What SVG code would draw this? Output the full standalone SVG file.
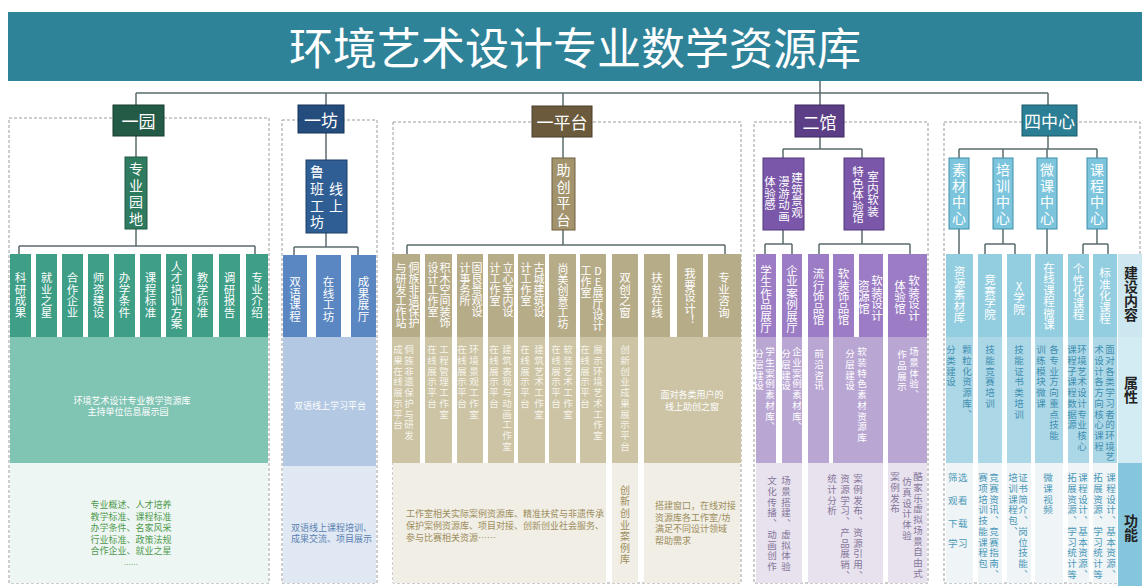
<svg xmlns="http://www.w3.org/2000/svg" width="1142" height="586" viewBox="0 0 1142 586">
<style>
text{font-family:"Noto Sans CJK SC","Noto Sans",sans-serif}
.v{writing-mode:vertical-rl;text-orientation:upright}
.m{text-anchor:middle}
.c{dominant-baseline:central}
.hd{font-size:17px;fill:#fff;text-anchor:middle;dominant-baseline:central}
.sb{font-size:14px;fill:#fff;letter-spacing:2.5px}
.sb2{font-size:11.5px;fill:#fff}
.lf{font-size:11.5px;fill:#fff}
.lf2{font-size:11px;fill:#fff}
.at{font-size:9.5px;letter-spacing:1.2px}
.hz{font-size:9px}
.w{fill:#fff}
.dash{fill:none;stroke:#9c9c9c;stroke-width:1;stroke-dasharray:3 2}
.ln{fill:none;stroke:#5b6b6e;stroke-width:1.5}
.lb{font-size:14px;font-weight:bold;fill:#222}
.g1{fill:#3e9e86}.g2{fill:#80c4b4}.g3{fill:#eef6f4}
.b1{fill:#5a87c2}.b2{fill:#b3c8e2}.b3{fill:#dfe8f3}
.t1{fill:#b7ac88}.t2{fill:#ccc4a5}.t3{fill:#f0eee5}
.p1{fill:#9c7cc4}.p2{fill:#b9a6d3}.p3{fill:#e7e2ee}
.c1{fill:#92cde0}.c2{fill:#acd7e7}.c3{fill:#eff4f6}
</style>
<rect width="1142" height="586" fill="#fff"/>
<g id="title">
<rect x="8" y="12" width="1134" height="69" fill="#2f8399"/>
<text x="575" y="46" font-size="44" fill="#fff" text-anchor="middle" dominant-baseline="central">环境艺术设计专业数学资源库</text>
</g>
<g id="connectors" class="ln">
<path d="M136 93H1048M820 81V105M136 93V105M326 93V105M563 93V106M1048 93V105"/>
<path d="M136 136V157M136 229V246M19 246H255M19 246V254M255 246V254"/>
<path d="M326 133V160M326 233V247M294 247H358M294 247V255M358 247V255"/>
<path d="M563 137V158M563 230V245M407 245H725M407 245V254M725 245V254"/>
<path d="M820 137V149M783 149H862M783 149V158M862 149V158M783 230V244M765 244H792M765 244V254M792 244V254M862 230V244M819 244H910M819 244V254M910 244V254"/>
<path d="M1048 136V149M959 149H1097M959 149V158M1003 149V158M1047 149V158M1097 149V158M959 229V254M1003 229V244M985 244H1015M985 244V254M1015 244V254M1047 229V254M1097 229V244M1083 244H1108M1083 244V254M1108 244V254"/>
</g>

<g id="yiyuan">
<rect class="dash" x="9" y="118" width="260" height="465"/>
<g id="yiyuan-head"><rect x="113" y="105" width="51" height="31" fill="#245b47" stroke="#163d2f"/><text class="hd" x="138.5" y="120.5">一园</text></g>
<g id="zhuanye-yuandi"><rect x="125" y="157" width="22" height="72" fill="#2e7b5f" stroke="#1e5a44"/><text class="v sb m" x="136" y="195">专业园地</text></g>
<rect class="g2" x="10" y="337" width="258" height="126"/>
<rect class="g3" x="10" y="463" width="258" height="120"/>
<g id="yy-l1"><rect class="g1" x="10" y="254" width="21" height="83"/><text class="v lf m" x="20.5" y="295">科研成果</text></g>
<g id="yy-l2"><rect class="g1" x="36" y="254" width="21" height="83"/><text class="v lf m" x="46.5" y="295">就业之星</text></g>
<g id="yy-l3"><rect class="g1" x="62" y="254" width="21" height="83"/><text class="v lf m" x="72.5" y="295">合作企业</text></g>
<g id="yy-l4"><rect class="g1" x="88" y="254" width="21" height="83"/><text class="v lf m" x="98.5" y="295">师资建设</text></g>
<g id="yy-l5"><rect class="g1" x="114" y="254" width="21" height="83"/><text class="v lf m" x="124.5" y="295">办学条件</text></g>
<g id="yy-l6"><rect class="g1" x="140" y="254" width="21" height="83"/><text class="v lf m" x="150.5" y="295">课程标准</text></g>
<g id="yy-l7"><rect class="g1" x="166" y="254" width="21" height="83"/><text class="v lf m" x="176.5" y="295">人才培训方案</text></g>
<g id="yy-l8"><rect class="g1" x="192" y="254" width="21" height="83"/><text class="v lf m" x="202.5" y="295">教学标准</text></g>
<g id="yy-l9"><rect class="g1" x="219" y="254" width="21" height="83"/><text class="v lf m" x="229.5" y="295">调研报告</text></g>
<g id="yy-l10"><rect class="g1" x="246" y="254" width="22" height="83"/><text class="v lf m" x="257" y="295">专业介绍</text></g>
<text class="hz w m c" x="132" y="400">环境艺术设计专业教学资源库</text>
<text class="hz w m c" x="128" y="411">主持单位信息展示园</text>
<g class="hz m" fill="#4f9a4c">
<text x="131" y="508">专业概述、人才培养</text>
<text x="131" y="519.5">教学标准、课程标准</text>
<text x="131" y="531">办学条件、名家风采</text>
<text x="131" y="542.5">行业标准、政策法规</text>
<text x="131" y="554">合作企业、就业之星</text>
<text x="131" y="567" font-size="7">……</text>
</g>
</g>

<g id="yifang">
<rect class="dash" x="282" y="120" width="95" height="463"/>
<g id="yifang-head"><rect x="298" y="105" width="46" height="28" fill="#244c7c" stroke="#16345a"/><text class="hd" x="321" y="119">一坊</text></g>
<g id="luban"><rect x="306" y="160" width="41" height="73" fill="#2f5e94" stroke="#1c3f68"/><text class="v sb" x="317" y="165" style="letter-spacing:2.7px">鲁班工坊</text><text class="v sb" x="336" y="182" style="letter-spacing:2.7px">线上</text></g>
<rect class="b2" x="283" y="337" width="93" height="129"/>
<rect class="b3" x="283" y="466" width="93" height="117"/>
<g id="yf-l1"><rect class="b1" x="283" y="255" width="24" height="82"/><text class="v lf m" x="295" y="299">双语课程</text></g>
<g id="yf-l2"><rect class="b1" x="316" y="255" width="25" height="82"/><text class="v lf m" x="328.5" y="299">在线工坊</text></g>
<g id="yf-l3"><rect class="b1" x="351" y="255" width="25" height="82"/><text class="v lf m" x="363.5" y="299">成果展厅</text></g>
<text class="hz w m c" x="330" y="405">双语线上学习平台</text>
<g class="hz" fill="#5b80b2">
<text x="291" y="530.5">双语线上课程培训、</text>
<text x="291" y="541.5">成果交流、项目展示</text>
</g>
</g>

<g id="yipingtai">
<rect class="dash" x="393" y="122" width="348" height="461"/>
<g id="yipingtai-head"><rect x="532" y="106" width="60" height="31" fill="#6b5a3c" stroke="#4a3d28"/><text class="hd" x="562" y="121.5">一平台</text></g>
<g id="zhuchuang"><rect x="552" y="158" width="23" height="72" fill="#a3946e" stroke="#6e5f40"/><text class="v sb m" x="563.5" y="196">助创平台</text></g>
<rect class="t2" x="392" y="337" width="28" height="126"/>
<rect class="t2" x="425" y="337" width="27" height="126"/>
<rect class="t2" x="457" y="337" width="26" height="126"/>
<rect class="t2" x="488" y="337" width="26" height="126"/>
<rect class="t2" x="518" y="337" width="27" height="126"/>
<rect class="t2" x="549" y="337" width="27" height="126"/>
<rect class="t2" x="580" y="337" width="26" height="126"/>
<rect class="t2" x="612" y="337" width="26" height="126"/>
<rect class="t2" x="644" y="337" width="97" height="126"/>
<rect class="t3" x="393" y="463" width="213" height="120"/>
<rect class="t3" x="612" y="463" width="26" height="120"/>
<rect class="t3" x="644" y="463" width="96" height="120"/>
<g id="pt-l1"><rect class="t1" x="392" y="254" width="28" height="83"/><text class="v lf2" x="414" y="262">侗族非遗保护</text><text class="v lf2" x="401" y="262">与研发工作站</text></g>
<g id="pt-l2"><rect class="t1" x="425" y="254" width="27" height="83"/><text class="v lf2" x="445" y="262">积木空间装饰</text><text class="v lf2" x="433" y="262">设计工作室</text></g>
<g id="pt-l3"><rect class="t1" x="457" y="254" width="26" height="83"/><text class="v lf2" x="477" y="262">固良景观设</text><text class="v lf2" x="465" y="262">计事务所</text></g>
<g id="pt-l4"><rect class="t1" x="488" y="254" width="26" height="83"/><text class="v lf2" x="508" y="262">立心室内设</text><text class="v lf2" x="495" y="262">计工作室</text></g>
<g id="pt-l5"><rect class="t1" x="518" y="254" width="27" height="83"/><text class="v lf2" x="539" y="262">古城建筑设</text><text class="v lf2" x="526" y="262">计工作室</text></g>
<g id="pt-l6"><rect class="t1" x="549" y="254" width="27" height="83"/><text class="v lf2 m" x="563" y="296">尚美创意工坊</text></g>
<g id="pt-l7"><rect class="t1" x="580" y="254" width="26" height="83"/><text class="v lf2" x="598" y="265">DE展厅设计</text><text class="v lf2" x="586" y="265">工作室</text></g>
<g id="pt-l8"><rect class="t1" x="612" y="254" width="26" height="83"/><text class="v lf m" x="625" y="295">双创之窗</text></g>
<g id="pt-l9"><rect class="t1" x="644" y="254" width="26" height="83"/><text class="v lf m" x="657" y="295">扶贫在线</text></g>
<g id="pt-l10"><rect class="t1" x="677" y="254" width="26" height="83"/><text class="v lf m" x="690" y="297">我要设计！</text></g>
<g id="pt-l11"><rect class="t1" x="708" y="254" width="33" height="83"/><text class="v lf m" x="724" y="295">专业咨询</text></g>
<g class="v at" fill="#f7f4ea">
<text x="409" y="345">侗族非遗保护与研发</text><text x="398" y="345">成果在线展示平台</text>
<text x="444" y="345">工程管理工作室</text><text x="432" y="345">在线展示平台</text>
<text x="474" y="345">环境景观工作室</text><text x="462" y="345">在线展示平台</text>
<text x="507" y="345">建筑表现与动画工作室</text><text x="494" y="345">在线展示平台</text>
<text x="539" y="345">建筑艺术工作室</text><text x="525" y="345">在线展示平台</text>
<text x="568" y="345">软装艺术工作室</text><text x="556" y="345">在线展示平台</text>
<text x="598" y="345">展示环境艺术工作室</text><text x="585" y="345">在线展示平台</text>
<text x="625" y="345">创新创业成果展示平台</text>
</g>
<text class="hz w m c" x="692" y="394">面对各类用户的</text>
<text class="hz w m c" x="692" y="406">线上助创之窗</text>
<g class="hz" fill="#9e8d5c">
<text x="406" y="517">工作室相关实际案例资源库、精准扶贫与非遗传承</text>
<text x="406" y="529">保护案例资源库、项目对接、创新创业社会服务、</text>
<text x="406" y="541">参与比赛相关资源……</text>
<text x="655" y="508.5">搭建窗口，在线对接</text>
<text x="655" y="520.5">资源库各工作室/坊</text>
<text x="655" y="532">满足不同设计领域</text>
<text x="655" y="543.5">帮助需求</text>
</g>
<text class="v" x="625" y="485" font-size="10" letter-spacing="1.6" fill="#9e8d5c">创新创业案例库</text>
</g>

<g id="erguan">
<rect class="dash" x="754" y="122" width="174" height="461"/>
<g id="erguan-head"><rect x="795" y="105" width="49" height="32" fill="#5b3e85" stroke="#3d2860"/><text class="hd" x="819.5" y="121">二馆</text></g>
<g id="jianzhu"><rect x="763" y="158" width="41" height="72" fill="#7a57a8" stroke="#54397c"/><text class="v sb2" x="797" y="172">建筑景观</text><text class="v sb2" x="784" y="176">漫游动画</text><text class="v sb2" x="770" y="176">体验感</text></g>
<g id="shinei"><rect x="844" y="158" width="40" height="72" fill="#7a57a8" stroke="#54397c"/><text class="v sb2" x="873" y="171">室内软装</text><text class="v sb2" x="858" y="166">特色体验馆</text></g>
<rect class="p2" x="756" y="337" width="20" height="126"/>
<rect class="p2" x="782" y="337" width="20" height="126"/>
<rect class="p2" x="808" y="337" width="21" height="126"/>
<rect class="p2" x="833" y="337" width="50" height="126"/>
<rect class="p2" x="888" y="337" width="39" height="126"/>
<rect class="p3" x="756" y="463" width="46" height="120"/>
<rect class="p3" x="808" y="463" width="75" height="120"/>
<rect class="p3" x="888" y="463" width="39" height="120"/>
<g id="eg-l1"><rect class="p1" x="756" y="254" width="20" height="83"/><text class="v lf m" x="766" y="299">学生作品展厅</text></g>
<g id="eg-l2"><rect class="p1" x="782" y="254" width="20" height="83"/><text class="v lf m" x="792" y="299">企业案例展厅</text></g>
<g id="eg-l3"><rect class="p1" x="808" y="254" width="21" height="83"/><text class="v lf m" x="818.5" y="297">流行饰品馆</text></g>
<g id="eg-l4"><rect class="p1" x="833" y="254" width="21" height="83"/><text class="v lf m" x="843.5" y="297">软装饰品馆</text></g>
<g id="eg-l5"><rect class="p1" x="859" y="254" width="24" height="83"/><text class="v lf m" x="877" y="298">软装设计</text><text class="v lf m" x="864" y="297">资源馆</text></g>
<g id="eg-l6"><rect class="p1" x="888" y="254" width="39" height="83"/><text class="v lf m" x="914" y="298">软装设计</text><text class="v lf m" x="900" y="297">体验馆</text></g>
<g class="v at" fill="#fff">
<text x="770" y="347">学生案例素材库、</text><text x="759" y="349">分层建设</text>
<text x="797" y="347">企业案例素材库、</text><text x="786" y="349">分层建设</text>
<text x="819" y="349">前沿咨讯</text>
<text x="862" y="347">软装特色素材资源库</text><text x="850" y="349">分层建设</text>
<text x="914" y="347">场景体验、</text><text x="902" y="350">作品展示</text>
</g>
<g class="v at" fill="#86769a">
<text x="786" y="476">场景搭建、虚拟体验</text><text x="772" y="476">文化传播、动画创作</text>
<text x="858" y="474">案例发布、资源引用、</text><text x="845" y="474">资源学习、产品展销、</text><text x="832" y="474">统计分析</text>
<text x="918" y="472">酷家乐虚拟场景自由式</text><text x="907" y="477">仿真设计体验</text><text x="895" y="472">案例发布</text>
</g>
</g>

<g id="sizhongxin">
<rect class="dash" x="944" y="122" width="196" height="461"/>
<g id="sizhongxin-head"><rect x="1022" y="105" width="55" height="31" fill="#2b7e93" stroke="#1b5868"/><text class="hd" x="1049.5" y="120.5">四中心</text></g>
<g id="sucai"><rect x="949" y="158" width="20" height="71" fill="#7cc5dd" stroke="#3f8ea8"/><text class="v sb m" x="959" y="195" style="letter-spacing:2px">素材中心</text></g>
<g id="peixun"><rect x="993" y="158" width="20" height="71" fill="#7cc5dd" stroke="#3f8ea8"/><text class="v sb m" x="1003" y="195" style="letter-spacing:2px">培训中心</text></g>
<g id="weike"><rect x="1037" y="158" width="20" height="71" fill="#7cc5dd" stroke="#3f8ea8"/><text class="v sb m" x="1047" y="195" style="letter-spacing:2px">微课中心</text></g>
<g id="kecheng"><rect x="1087" y="158" width="20" height="71" fill="#7cc5dd" stroke="#3f8ea8"/><text class="v sb m" x="1097" y="195" style="letter-spacing:2px">课程中心</text></g>
<rect class="c2" x="946" y="337" width="27" height="126"/>
<rect class="c2" x="978" y="337" width="24" height="126"/>
<rect class="c2" x="1007" y="337" width="24" height="126"/>
<rect class="c2" x="1035" y="337" width="28" height="126"/>
<rect class="c2" x="1068" y="337" width="21" height="126"/>
<rect class="c2" x="1093" y="337" width="24" height="126"/>
<rect x="1118" y="337" width="24" height="126" fill="#d3ebf3"/>
<rect class="c3" x="946" y="463" width="27" height="120"/>
<rect class="c3" x="978" y="463" width="24" height="120"/>
<rect class="c3" x="1007" y="463" width="24" height="120"/>
<rect class="c3" x="1035" y="463" width="28" height="120"/>
<rect class="c3" x="1068" y="463" width="21" height="120"/>
<rect class="c3" x="1093" y="463" width="24" height="120"/>
<rect x="1118" y="463" width="24" height="123" fill="#86c6dd"/>
<g id="zx-l1"><rect class="c1" x="946" y="254" width="27" height="83"/><text class="v lf m" x="959.5" y="295">资源素材库</text></g>
<g id="zx-l2"><rect class="c1" x="978" y="254" width="24" height="83"/><text class="v lf m" x="990" y="297">竞赛学院</text></g>
<g id="zx-l3"><rect class="c1" x="1007" y="254" width="24" height="83"/><text class="v lf m" x="1019" y="298">X学院</text></g>
<g id="zx-l4"><rect class="c1" x="1035" y="254" width="28" height="83"/><text class="v lf m" x="1049" y="296">在线课程微课</text></g>
<g id="zx-l5"><rect class="c1" x="1068" y="254" width="21" height="83"/><text class="v lf m" x="1078.5" y="292">个性化课程</text></g>
<g id="zx-l6"><rect class="c1" x="1093" y="254" width="24" height="83"/><text class="v lf m" x="1105" y="296">标准化课程</text></g>
<g id="label-jianshe"><rect x="1118" y="254" width="24" height="83" fill="#cde7f0"/><text class="v lb m" x="1131" y="294" font-size="13">建设内容</text></g>
<g class="v at" fill="#3f8fb0">
<text x="967" y="345">颗粒化资源库、</text><text x="951" y="345">分类建设</text>
<text x="990" y="345">技能竞赛培训</text>
<text x="1019" y="345">技能证书类培训</text>
<text x="1054" y="345">各专业方向重点技能</text><text x="1041" y="345">训练模块微课</text>
<text x="1082" y="345">环境艺术设计专业核心</text><text x="1072" y="345">课程子课程数据源</text>
<text x="1110" y="345">面对各类学习者的环境艺</text><text x="1099" y="345">术设计各方向核心课程</text>
</g>
<text class="v lb m" x="1131" y="390">属性</text>
<g class="at m c" fill="#4a98b8" style="letter-spacing:0.5px">
<text x="958" y="477">筛选</text><text x="958" y="500">观看</text><text x="958" y="523">下载</text><text x="958" y="543">学习</text>
</g>
<g class="v at" fill="#4a98b8">
<text x="994" y="473">竞赛资讯、竞赛指南、</text><text x="983" y="473">赛项培训技能课程包</text>
<text x="1023" y="473">证书简介、岗位技能、</text><text x="1013" y="473">培训课程包、</text>
<text x="1048" y="473">微课视频</text>
<text x="1083" y="473">课程设计、基本资源、</text><text x="1072" y="473">拓展资源、学习统计等</text>
<text x="1111" y="473">课程设计、基本资源、</text><text x="1098" y="473">拓展资源、学习统计等</text>
</g>
<text class="v lb m" x="1131" y="528">功能</text>
</g>
</svg>
